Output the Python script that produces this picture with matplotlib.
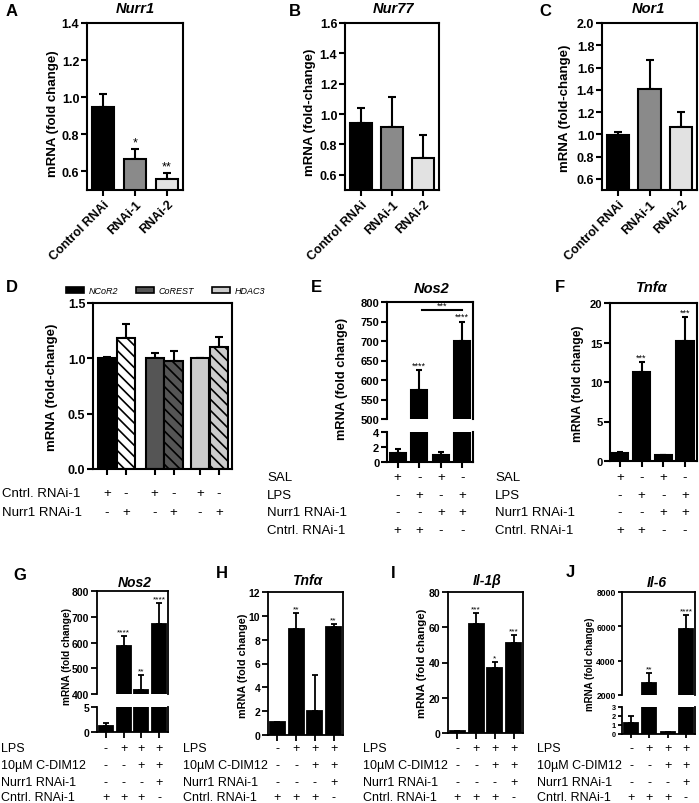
import matplotlib
matplotlib.use('Agg')
import matplotlib.pyplot as plt
import matplotlib.transforms as mtrans
from matplotlib.patches import Patch
import numpy as np

plt.rcParams['font.family'] = ['Liberation Sans', 'DejaVu Sans']
plt.rcParams['font.weight'] = 'bold'
plt.rcParams['hatch.linewidth'] = 1.2

# ---------------- data ----------------
abc_labels = ['Control RNAi', 'RNAi-1', 'RNAi-2']
abc_colors = ['black', '#8a8a8a', '#e2e2e2']
nurr1_vals = [0.95, 0.665, 0.56]
nurr1_err = [0.07, 0.055, 0.03]
nurr1_sig = ['', '*', '**']
nur77_vals = [0.94, 0.915, 0.71]
nur77_err = [0.10, 0.20, 0.15]
nor1_vals = [0.99, 1.41, 1.07]
nor1_err = [0.03, 0.26, 0.13]

d_genes = ['NCoR2', 'CoREST', 'HDAC3']
d_colors = ['black', '#555555', '#cccccc']
d_ctrl_vals = [1.0, 1.0, 1.0]
d_ctrl_err = [0.012, 0.05, 0.006]
d_nurr_vals = [1.18, 0.98, 1.10]
d_nurr_err = [0.13, 0.09, 0.09]
d_rows = ['Cntrl. RNAi-1', 'Nurr1 RNAi-1']
d_signs = [['+', '-', '+', '-', '+', '-'],
           ['-', '+', '-', '+', '-', '+']]

ef_rows = ['SAL', 'LPS', 'Nurr1 RNAi-1', 'Cntrl. RNAi-1']
ef_signs = [['+', '-', '+', '-'],
            ['-', '+', '-', '+'],
            ['-', '-', '+', '+'],
            ['+', '+', '-', '-']]
e_vals = [1.2, 575, 1.0, 700]
e_err = [0.5, 50, 0.4, 50]
e_sig = ['', '****', '', '****']
f_vals = [1.05, 11.3, 0.75, 15.2]
f_err = [0.05, 1.2, 0.05, 3.0]
f_sig = ['', '***', '', '***']

gj_rows = ['LPS', '10µM C-DIM12', 'Nurr1 RNAi-1', 'Cntrl. RNAi-1']
gj_signs = [['-', '+', '+', '+'],
            ['-', '-', '+', '+'],
            ['-', '-', '-', '+'],
            ['+', '+', '+', '-']]
g_vals = [1.3, 585, 415, 670]
g_err = [0.6, 40, 60, 85]
g_sig = ['', '****', '**', '****']
h_vals = [1.05, 8.9, 2.0, 9.1]
h_err = [0.05, 1.35, 3.0, 0.25]
h_sig = ['', '**', '', '**']
i_vals = [1.2, 62, 37, 51]
i_err = [0.1, 6, 3.5, 4.5]
i_sig = ['', '***', '*', '***']
j_vals = [1.2, 2700, 0.2, 5850]
j_err = [0.8, 600, 0.05, 800]
j_sig = ['', '**', '', '****']

# ---------------- layout helpers ----------------
W, H = 699, 804
fig = plt.figure(figsize=(W / 100, H / 100), dpi=100)


def rect(x0, x1, yt, yb):
    return [x0 / W, 1 - yb / H, (x1 - x0) / W, (yb - yt) / H]


def ftext(x, y, s, **kw):
    kw.setdefault('ha', 'center')
    kw.setdefault('va', 'center')
    fig.text(x / W, 1 - y / H, s, **kw)


def style(ax, lw=1.5, fs=9, tl=4):
    for s in ax.spines.values():
        s.set_linewidth(lw)
    ax.tick_params(axis='both', direction='out', length=tl, width=lw,
                   labelsize=fs, pad=1.5)


def bars(ax, x, vals, errs, colors, width=0.7, lw=1.5, hatch=None, cap=3):
    ax.bar(x, vals, width=width, color=colors, edgecolor='black',
           linewidth=lw, hatch=hatch, zorder=2)
    ax.errorbar(x, vals, yerr=[np.zeros(len(vals)), errs], fmt='none',
                ecolor='black', elinewidth=lw, capsize=cap, capthick=lw,
                zorder=1)


def stars(ax, x, vals, errs, sigs, fs=8):
    for xi, v, e, s in zip(x, vals, errs, sigs):
        if s:
            ax.annotate(s, xy=(xi, v + e), xytext=(0, 0.3),
                        textcoords='offset points', ha='center', va='bottom',
                        fontsize=fs, fontweight='normal', annotation_clip=False)


def sign_rows(ax, xpos, labels, signs, ys, label_x, fs=9.5):
    tr = mtrans.blended_transform_factory(ax.transData, fig.transFigure)
    for lab, row, y in zip(labels, signs, ys):
        ftext(label_x, y, lab, ha='left', fontsize=fs, fontweight='normal')
        for xi, s in zip(xpos, row):
            ax.text(xi, 1 - y / H, s, transform=tr, ha='center', va='center',
                    fontsize=fs, fontweight='normal')


# ---------------- A, B, C ----------------
abc = [
    ('A', 'Nurr1', 'mRNA (fold change)', nurr1_vals, nurr1_err, nurr1_sig,
     (87, 183), (0.5, 1.4), np.arange(0.6, 1.41, 0.2), 12, 135, 53, 114),
    ('B', 'Nur77', 'mRNA (fold-change)', nur77_vals, nur77_err, None,
     (345, 439), (0.5, 1.6), np.arange(0.6, 1.61, 0.2), 295, 393, 310, 112),
    ('C', 'Nor1', 'mRNA (fold-change)', nor1_vals, nor1_err, None,
     (602, 697), (0.5, 2.0), np.arange(0.6, 2.01, 0.2), 545, 648, 565, 108),
]
for letter, title, ylab, vals, errs, sig, (x0, x1), ylim, yt, lx, tx, yx, yy in abc:
    ax = fig.add_axes(rect(x0, x1, 24, 191))
    x = np.arange(3)
    bars(ax, x, vals, errs, abc_colors, width=0.7)
    if sig:
        stars(ax, x, vals, errs, sig, fs=9)
    ax.set_xlim(-0.5, 2.5)
    ax.set_ylim(*ylim)
    ax.set_yticks(yt)
    ax.set_xticks(x)
    ax.set_xticklabels(abc_labels, rotation=45, ha='right',
                       rotation_mode='anchor', fontsize=9)
    style(ax, fs=9)
    ftext(lx, 12, letter, fontsize=12)
    ftext(tx, 9, title, fontsize=10.5, fontstyle='italic')
    ftext(yx, yy, ylab, rotation=90, fontsize=9.5)

# ---------------- D ----------------
axd = fig.add_axes(rect(93, 232, 304, 470))
xd_ctrl = np.array([0.0, 2.5, 4.9])
xd_nurr = xd_ctrl + 1.0
for i in range(3):
    bars(axd, [xd_ctrl[i]], [d_ctrl_vals[i]], [d_ctrl_err[i]], [d_colors[i]],
         width=0.95)
    fc = 'white' if i == 0 else d_colors[i]
    bars(axd, [xd_nurr[i]], [d_nurr_vals[i]], [d_nurr_err[i]], [fc],
         width=0.95, hatch='\\\\\\')
axd.set_xlim(-0.74, 6.58)
axd.set_ylim(0, 1.5)
axd.set_yticks([0, 0.5, 1.0, 1.5])
xd_all = np.sort(np.concatenate([xd_ctrl, xd_nurr]))
axd.set_xticks(xd_all)
axd.set_xticklabels([])
style(axd, fs=9)
ftext(12, 287, 'D', fontsize=12)
ftext(52, 387, 'mRNA (fold-change)', rotation=90, fontsize=9.5)
handles = [Patch(facecolor=c, edgecolor='black', linewidth=1.2) for c in d_colors]
fig.legend(handles, d_genes, loc='center left',
           bbox_to_anchor=(66 / W, 1 - 292 / H), ncol=3, frameon=False,
           prop={'style': 'italic', 'size': 6.5, 'weight': 'normal'},
           handlelength=2.0, handleheight=0.6, columnspacing=2.0,
           handletextpad=0.5, borderaxespad=0, borderpad=0)
sign_rows(axd, xd_all, d_rows, d_signs, [494, 513], 2)


# ---------------- broken-axis helper ----------------
def broken(x0, x1, yt, ybrk_top, ybrk_bot, yb, vals, errs, sig, up_lim, up_ticks,
           lo_lim, lo_ticks, width, lw, fs_up, fs_lo, sfs, tl=4):
    axu = fig.add_axes(rect(x0, x1, yt, ybrk_top))
    axl = fig.add_axes(rect(x0, x1, ybrk_bot, yb))
    x = np.arange(4)
    for a in (axu, axl):
        bars(a, x, vals, errs, ['black'] * 4, width=width, lw=lw, cap=2.5)
        a.set_xlim(-0.5, 3.5)
    axu.set_ylim(*up_lim)
    axu.set_yticks(up_ticks)
    axl.set_ylim(*lo_lim)
    axl.set_yticks(lo_ticks)
    axu.spines['bottom'].set_visible(False)
    axl.spines['top'].set_visible(False)
    axu.set_xticks([])
    axl.set_xticks(x)
    axl.set_xticklabels([])
    style(axu, lw=lw, fs=fs_up, tl=tl)
    style(axl, lw=lw, fs=fs_lo, tl=tl)
    axu.tick_params(axis='x', length=0)
    stars(axu, x, vals, errs, sig, fs=sfs)
    return axu, axl, x


# ---------------- E ----------------
axeu, axel, xe = broken(387, 473, 303, 420, 433, 463, e_vals, e_err, e_sig,
                        (500, 800), [500, 550, 600, 650, 700, 750, 800],
                        (0, 4), [0, 2, 4], 0.73, 1.5, 8, 8, 6.5)
axeu.plot([1.15, 3.0], [780, 780], color='black', lw=1.5, clip_on=False)
axeu.text(2.05, 781, '***', ha='center', va='bottom', fontsize=6.5,
          fontweight='normal')
ftext(316, 288, 'E', fontsize=12)
ftext(432, 289, 'Nos2', fontsize=10.5, fontstyle='italic')
ftext(342, 379, 'mRNA (fold change)', rotation=90, fontsize=9.2)
sign_rows(axel, xe, ef_rows, ef_signs, [478, 496, 513, 531], 267)

# ---------------- F ----------------
axf = fig.add_axes(rect(610, 697, 304, 462))
xf = np.arange(4)
bars(axf, xf, f_vals, f_err, ['black'] * 4, width=0.8, cap=2.5)
stars(axf, xf, f_vals, f_err, f_sig, fs=6.5)
axf.set_xlim(-0.45, 3.55)
axf.set_ylim(0, 20)
axf.set_yticks([0, 5, 10, 15, 20])
axf.set_xticks(xf)
axf.set_xticklabels([])
style(axf, fs=8)
ftext(560, 288, 'F', fontsize=12)
ftext(652, 288, 'Tnfα', fontsize=10.5, fontstyle='italic')
ftext(578, 384, 'mRNA (fold change)', rotation=90, fontsize=8.7)
sign_rows(axf, xf, ef_rows, ef_signs, [478, 496, 513, 531], 495)

# ---------------- G ----------------
rows_y = [749, 766, 783, 798]
rfs = 9
axgu, axgl, xg = broken(97, 168, 592, 695, 708, 733, g_vals, g_err, g_sig,
                        (400, 800), [400, 500, 600, 700, 800],
                        (0, 5), [0, 5], 0.8, 1.3, 7.5, 7.5, 6)
ftext(20, 575, 'G', fontsize=12)
ftext(135, 583, 'Nos2', fontsize=10, fontstyle='italic')
ftext(67, 657, 'mRNA (fold change)', rotation=90, fontsize=7.3)
sign_rows(axgl, xg, gj_rows, gj_signs, rows_y, 1, fs=rfs)


# ---------------- H, I ----------------
def simple4(x0, x1, yt, yb, vals, errs, sig, ylim, yticks, letter, lpos,
            title, tpos, ylx, yly, yfs, labx):
    ax = fig.add_axes(rect(x0, x1, yt, yb))
    x = np.arange(4)
    bars(ax, x, vals, errs, ['black'] * 4, width=0.8, lw=1.3, cap=2.5)
    stars(ax, x, vals, errs, sig, fs=6)
    ax.set_xlim(-0.5, 3.5)
    ax.set_ylim(*ylim)
    ax.set_yticks(yticks)
    ax.set_xticks(x)
    ax.set_xticklabels([])
    style(ax, lw=1.3, fs=7.5)
    ftext(lpos[0], lpos[1], letter, fontsize=12)
    ftext(tpos[0], tpos[1], title, fontsize=10, fontstyle='italic')
    ftext(ylx, yly, 'mRNA (fold change)', rotation=90, fontsize=yfs)
    sign_rows(ax, x, gj_rows, gj_signs, rows_y, labx, fs=rfs)
    return ax


simple4(268, 343, 593, 736, h_vals, h_err, h_sig, (0, 12), range(0, 13, 2),
        'H', (222, 574), 'Tnfα', (307, 581), 243, 666, 7.8, 183)
simple4(448, 523, 593, 734, i_vals, i_err, i_sig, (0, 80), range(0, 81, 20),
        'I', (393, 574), 'Il-1β', (487, 581), 422, 663, 8.2, 363)

# ---------------- J ----------------
axju, axjl, xj = broken(622, 695, 593, 696, 708, 735, j_vals, j_err, j_sig,
                        (2000, 8000), [2000, 4000, 6000, 8000],
                        (0, 3), [0, 1, 2, 3], 0.78, 1.3, 6.2, 5.3, 6, tl=3)
ftext(570, 573, 'J', fontsize=12)
ftext(657, 583, 'Il-6', fontsize=10, fontstyle='italic')
ftext(590, 664, 'mRNA (fold change)', rotation=90, fontsize=7.0)
sign_rows(axjl, xj, gj_rows, gj_signs, rows_y, 537, fs=rfs)

fig.savefig('out.png', dpi=100)
